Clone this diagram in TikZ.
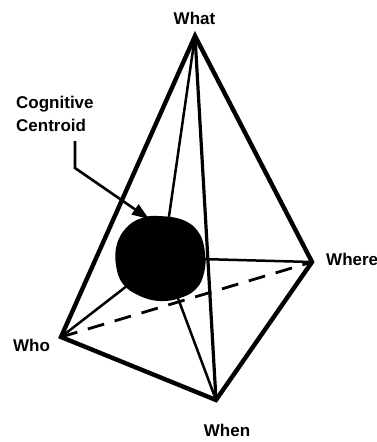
\documentclass[tikz,border=0pt]{standalone}
\usepackage{fontspec}
\setmainfont{Liberation Sans}
\usetikzlibrary{arrows.meta}
\begin{document}
\begin{tikzpicture}[x=1pt,y=-1pt,
  lbl/.style={font=\fontsize{17}{23}\selectfont\bfseries, inner sep=0pt},
  edgethick/.style={line width=4.4pt, line join=miter, miter limit=20},
  edgemid/.style={line width=3.2pt},
  edgethin/.style={line width=2.5pt},
  hidden/.style={line width=2.8pt, dash pattern=on 17pt off 11pt},
  pointer/.style={line width=2.6pt, -{Triangle[length=17pt,width=12pt]}}
]
\useasboundingbox (0,0) rectangle (377,442);
% vertices
\coordinate (what) at (195,36);
\coordinate (who) at (61,337);
\coordinate (when) at (216,400);
\coordinate (where) at (312,262);
\coordinate (cen) at (163,258);
% labels
\node[lbl, anchor=base] (lwhat) at (194.5,24.5) {What};
\node[lbl, anchor=base west] (lwho) at (13,351.5) {Who};
\node[lbl, anchor=base] (lwhen) at (227,436.5) {When};
\node[lbl, anchor=base west] (lwhere) at (326,265) {Where};
\node[lbl, anchor=north west, align=left] (lcog) at (16,96.3) {Cognitive\\Centroid};
% hidden edge
\draw[hidden] (who) -- (where);
% thin lines to centroid
\draw[edgethin] (cen) -- (what);
\draw[edgethin] (cen) -- (who);
\draw[edgethin] (cen) -- (when);
\draw[edgethin] (cen) -- (where);
% centroid blob
\fill plot[smooth cycle, tension=0.7] coordinates {
  (158,216) (183,220) (199,233) (205,253) (204,273) (196,289) (180,298)
  (160,301) (140,296) (123,284) (116,265) (117,244) (127,227) (142,218)};
% edges
\draw[edgemid] (what) -- (when);
\draw[edgethick] (who) -- (what) -- (where) -- (when) -- cycle;
% pointer
\coordinate (pstart) at (75,141);
\coordinate (pbend) at (75,168);
\coordinate (ptip) at (149,219);
\draw[pointer] (pstart) -- (pbend) -- (ptip);
\end{tikzpicture}
\end{document}
